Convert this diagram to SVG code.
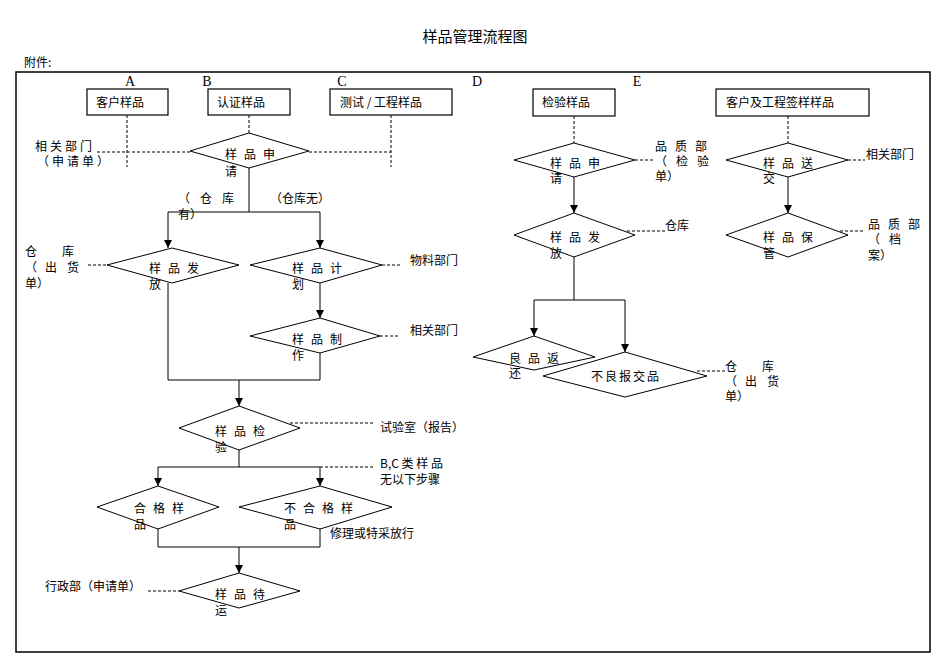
<svg xmlns="http://www.w3.org/2000/svg" width="950" height="672" viewBox="0 0 950 672">
<defs>
<marker id="ar" markerWidth="8" markerHeight="8" refX="8" refY="4" orient="auto" markerUnits="userSpaceOnUse"><path d="M0,0 L8,4 L0,8 Z" fill="#000"/></marker>
</defs>
<style>
text{font-family:"Noto Sans CJK SC","Liberation Serif",sans-serif;font-size:12px;fill:#000}
.t{font-size:15px}
.l{font-family:"Liberation Serif",serif;font-size:14px}
.b{fill:#fff;stroke:#000;stroke-width:1.2}
.d{fill:#fff;stroke:#000;stroke-width:1}
.s{fill:none;stroke:#000;stroke-width:1}
.ds{fill:none;stroke:#000;stroke-width:1;stroke-dasharray:3,2}
.m{text-anchor:middle}
</style>
<rect width="950" height="672" fill="#fff"/>
<text class="t m" x="475" y="42">样品管理流程图</text>
<text x="24" y="67">附件:</text>
<rect x="16" y="72" width="914" height="580" fill="none" stroke="#000" stroke-width="1.5"/>
<text class="l m" x="130" y="86">A</text><text class="l m" x="207" y="86">B</text><text class="l m" x="342" y="86">C</text><text class="l m" x="477" y="86">D</text><text class="l m" x="637" y="86">E</text>
<g id="connectors">
<path class="ds" d="M127,115 V167 M249,115 V133 M391,115 V167 M97,152 H190 M309,152 H391"/>
<path class="s" d="M249,168 V212 M168,212 H320"/>
<path class="s" d="M168,212 V248" marker-end="url(#ar)"/>
<path class="s" d="M320,212 V248" marker-end="url(#ar)"/>
<path class="ds" d="M88,265 H107 M382,265 H400 M380,336 H400"/>
<path class="s" d="M320,283 V318" marker-end="url(#ar)"/>
<path class="s" d="M168,283 V380 M320,353 V380 M168,380 H320"/>
<path class="s" d="M239,380 V406" marker-end="url(#ar)"/>
<path class="ds" d="M290,423 H375 M320,467 H375 M148,591 H179"/>
<path class="s" d="M239,450 V467 M158,467 H320"/>
<path class="s" d="M158,467 V486" marker-end="url(#ar)"/>
<path class="s" d="M320,467 V486" marker-end="url(#ar)"/>
<path class="s" d="M158,529 V547 M320,529 V547 M158,547 H320"/>
<path class="s" d="M239,547 V573" marker-end="url(#ar)"/>
<path class="ds" d="M574,116 V143 M635,160 H655 M627,231 H665 M788,116 V143 M848,160 H865 M840,231 H865 M697,371 H725"/>
<path class="s" d="M574,177 V213" marker-end="url(#ar)"/>
<path class="s" d="M788,177 V213" marker-end="url(#ar)"/>
<path class="s" d="M574,257 V300 M534,300 H625"/>
<path class="s" d="M534,300 V336" marker-end="url(#ar)"/>
<path class="s" d="M625,300 V352" marker-end="url(#ar)"/>
</g>
<g id="n_a"><rect class="b" x="87" y="89" width="81" height="26"/><text x="96" y="107">客户样品</text></g>
<g id="n_b"><rect class="b" x="208" y="89" width="82" height="26"/><text x="217" y="107">认证样品</text></g>
<g id="n_c"><rect class="b" x="330" y="89" width="122" height="26"/><text x="340" y="107">测试 / 工程样品</text></g>
<g id="n_d"><rect class="b" x="533" y="89" width="82" height="27"/><text x="542" y="107">检验样品</text></g>
<g id="n_e"><rect class="b" x="716" y="89" width="153" height="27"/><text x="726" y="107">客户及工程签样样品</text></g>
<g id="n_apply"><path class="d" d="M190,151 L249,133 L309,151 L249,168 Z"/><text x="225" y="159" letter-spacing="7">样品申</text><text x="225" y="176">请</text></g>
<g id="n_issue"><path class="d" d="M107,265 L172,248 L239,265 L172,283 Z"/><text x="149" y="273" letter-spacing="7">样品发</text><text x="149" y="289">放</text></g>
<g id="n_plan"><path class="d" d="M250,265 L320,248 L382,265 L320,283 Z"/><text x="292" y="273" letter-spacing="7">样品计</text><text x="292" y="289">划</text></g>
<g id="n_make"><path class="d" d="M250,336 L320,318 L380,336 L320,353 Z"/><text x="292" y="344" letter-spacing="7">样品制</text><text x="292" y="360">作</text></g>
<g id="n_check"><path class="d" d="M179,428 L239,406 L300,428 L239,450 Z"/><text x="215" y="436" letter-spacing="7">样品检</text><text x="215" y="452">验</text></g>
<g id="n_ok"><path class="d" d="M97,507 L158,486 L219,507 L158,529 Z"/><text x="134" y="513" letter-spacing="7">合格样</text><text x="134" y="529">品</text></g>
<g id="n_ng"><path class="d" d="M239,507 L320,486 L392,507 L320,529 Z"/><text x="284" y="513" letter-spacing="7">不合格样</text><text x="284" y="529">品</text></g>
<g id="n_wait"><path class="d" d="M179,591 L239,573 L300,591 L239,608 Z"/><text x="215" y="599" letter-spacing="7">样品待</text><text x="215" y="615">运</text></g>
<g id="n_dapply"><path class="d" d="M514,160 L574,143 L635,160 L574,177 Z"/><text x="550" y="168" letter-spacing="7">样品申</text><text x="550" y="183">请</text></g>
<g id="n_dissue"><path class="d" d="M514,235 L574,213 L635,235 L574,257 Z"/><text x="550" y="242" letter-spacing="7">样品发</text><text x="550" y="258">放</text></g>
<g id="n_good"><path class="d" d="M473,357 L534,336 L595,357 L534,370 Z"/><text x="509" y="363" letter-spacing="7">良品返</text><text x="509" y="378">还</text></g>
<g id="n_bad"><path class="d" d="M543,376 L625,352 L707,376 L625,397 Z"/><text x="591" y="381" letter-spacing="2">不良报交品</text></g>
<g id="n_send"><path class="d" d="M726,160 L788,143 L848,160 L788,177 Z"/><text x="763" y="168" letter-spacing="7">样品送</text><text x="763" y="183">交</text></g>
<g id="n_keep"><path class="d" d="M726,235 L788,213 L848,235 L788,257 Z"/><text x="763" y="242" letter-spacing="7">样品保</text><text x="763" y="258">管</text></g>
<g id="labels">
<text x="35" y="151" letter-spacing="3">相关部门</text><text x="37" y="166" letter-spacing="3">（申请单）</text>
<text x="178" y="203" letter-spacing="10">（仓库</text><text x="178" y="219">有）</text>
<text x="270" y="203">（仓库无）</text>
<text x="25" y="256">仓</text><text x="62" y="256">库</text>
<text x="25" y="272">（</text><text x="45" y="272">出</text><text x="67" y="272">货</text>
<text x="25" y="288">单）</text>
<text x="410" y="265">物料部门</text>
<text x="410" y="335">相关部门</text>
<text x="380" y="432">试验室（报告）</text>
<text x="380" y="468">B,C 类 样 品</text><text x="380" y="484">无以下步骤</text>
<text x="330" y="538">修理或特采放行</text>
<text x="45" y="591">行政部（申请单）</text>
<text x="655" y="151" letter-spacing="8">品质部</text><text x="655" y="166">（</text><text x="676" y="166">检</text><text x="697" y="166">验</text><text x="655" y="181">单）</text>
<text x="665" y="230">仓库</text>
<text x="866" y="159">相关部门</text>
<text x="868" y="229" letter-spacing="8">品质部</text><text x="868" y="244">（</text><text x="889" y="244">档</text><text x="868" y="260">案）</text>
<text x="725" y="371">仓</text><text x="762" y="371">库</text>
<text x="725" y="386">（</text><text x="745" y="386">出</text><text x="767" y="386">货</text>
<text x="725" y="401">单）</text>
</g>
</svg>
